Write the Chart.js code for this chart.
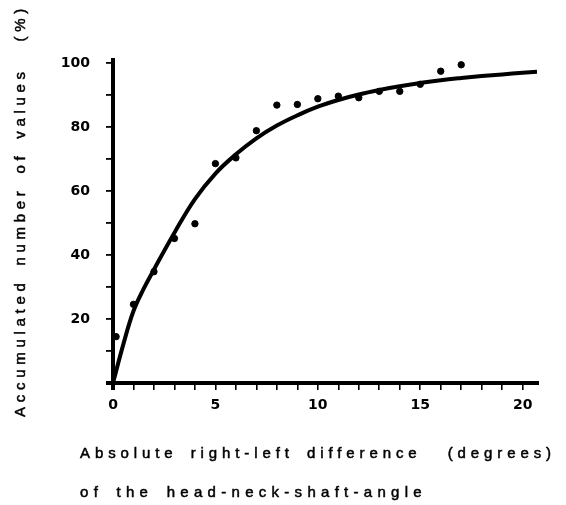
<!DOCTYPE html>
<html lang="en">
<head>
  <meta charset="UTF-8">
  <title>Head-neck-shaft-angle difference</title>
  <script src="https://cdn.jsdelivr.net/npm/chart.js@4.4.1/dist/chart.umd.min.js"></script>
  <style>
    html, body { margin: 0; padding: 0; background: #fff; }
    #wrap { width: 566px; height: 505px; }
  </style>
</head>
<body>
<div id="wrap"><canvas id="myChart" width="566" height="505"></canvas></div>

<script>
    // observed values (degrees -> accumulated %)
    const pointX = [0.15, 1, 2, 3, 4, 5, 6, 7, 8, 9, 10, 11, 12, 13, 14, 15, 16, 17];
    const pointY = [14.5, 24.6, 34.8, 45.2, 49.8, 68.6, 70.4, 78.9, 86.9, 87.1, 88.9, 89.7, 89.2, 91.2, 91.2, 93.4, 97.5, 99.5];

    // fitted curve
    const curveX = [0, 0.5, 1, 1.5, 2, 3, 4, 5, 6, 7, 8, 9, 10, 11, 12, 13, 14, 15, 16, 17, 18, 19, 20, 20.7];
    const curveY = [0, 12, 22.5, 29.5, 35.5, 47, 57.5, 65.5, 71.5, 76.5, 80.5, 83.7, 86.4, 88.5, 90.2, 91.6, 92.8, 93.8, 94.7, 95.4, 96, 96.5, 97, 97.3];

    const yTitle = 'Accumulated number of values  (%)';
    const xTitle1 = 'Absolute right-left difference  (degrees)';
    const xTitle2 = 'of the head-neck-shaft-angle';

    const toXY = (xs, ys) => xs.map((x, i) => ({x: x, y: ys[i]}));

    // letter spaced text stretched to the given width
    function spacedText(ctx, text, x, y, width) {
        ctx.wordSpacing = '4px';
        ctx.letterSpacing = '0px';
        const w = ctx.measureText(text).width;
        ctx.letterSpacing = ((width - w) / text.length) + 'px';
        ctx.fillText(text, x, y);
        ctx.strokeText(text, x, y);
        ctx.letterSpacing = '0px';
        ctx.wordSpacing = '0px';
    }

    const titles = {
        id: 'titles',
        afterDraw: (chart) => {
            const ctx = chart.ctx;
            ctx.save();
            ctx.fillStyle = '#000';
            ctx.strokeStyle = '#000';
            ctx.lineWidth = 0.5;
            ctx.font = '15px "Liberation Sans", Arial, sans-serif';
            ctx.textBaseline = 'middle';
            ctx.textAlign = 'left';
            spacedText(ctx, xTitle1, 80, 454, 476);
            spacedText(ctx, xTitle2, 80, 493, 347);
            ctx.translate(21, 417);
            ctx.rotate(-Math.PI / 2);
            spacedText(ctx, yTitle, 0, 0, 413);
            ctx.restore();
        }
    };

    const tickFont = {family: '"DejaVu Sans", sans-serif', size: 14, weight: 'bold'};

    var ctx = document.getElementById('myChart');
    var myChart = new Chart(ctx, {
        type: 'scatter',
        data: {
            datasets: [{
                label: 'fit',
                data: toXY(curveX, curveY),
                showLine: true,
                borderColor: '#000',
                borderWidth: 4,
                pointRadius: 0,
                tension: 0.4,
                order: 2
            }, {
                label: 'values',
                data: toXY(pointX, pointY),
                backgroundColor: '#000',
                borderColor: '#000',
                pointRadius: 3.2,
                order: 1
            }]
        },
        options: {
            responsive: false,
            animation: false,
            layout: {padding: {top: 60, right: 29, left: 0, bottom: 0}},
            plugins: {legend: {display: false}, tooltip: {enabled: false}},
            scales: {
                x: {
                    type: 'linear',
                    min: 0,
                    max: 20.7,
                    afterFit: (s) => { s.height = 122; },
                    border: {color: '#000', width: 4},
                    grid: {
                        drawOnChartArea: false,
                        color: '#000',
                        lineWidth: (c) => (c.index === 0 ? 4 : 1.6),
                        tickLength: 7
                    },
                    ticks: {
                        stepSize: 1,
                        includeBounds: false,
                        autoSkip: false,
                        maxRotation: 0,
                        padding: 7,
                        color: '#000',
                        font: tickFont,
                        callback: (v) => (v % 5 === 0 ? String(v) : '')
                    }
                },
                y: {
                    min: 0,
                    max: 101,
                    afterFit: (s) => { s.width = 113; },
                    border: {color: '#000', width: 4},
                    grid: {
                        drawOnChartArea: false,
                        color: '#000',
                        lineWidth: (c) => (c.index === 0 ? 4 : 1.8),
                        tickLength: 7
                    },
                    ticks: {
                        stepSize: 10,
                        includeBounds: false,
                        autoSkip: false,
                        padding: 16,
                        color: '#000',
                        font: tickFont,
                        callback: (v) => (v > 0 && v % 20 === 0 ? String(v) : '')
                    }
                }
            }
        },
        plugins: [titles]
    });
</script>
</body>
</html>
